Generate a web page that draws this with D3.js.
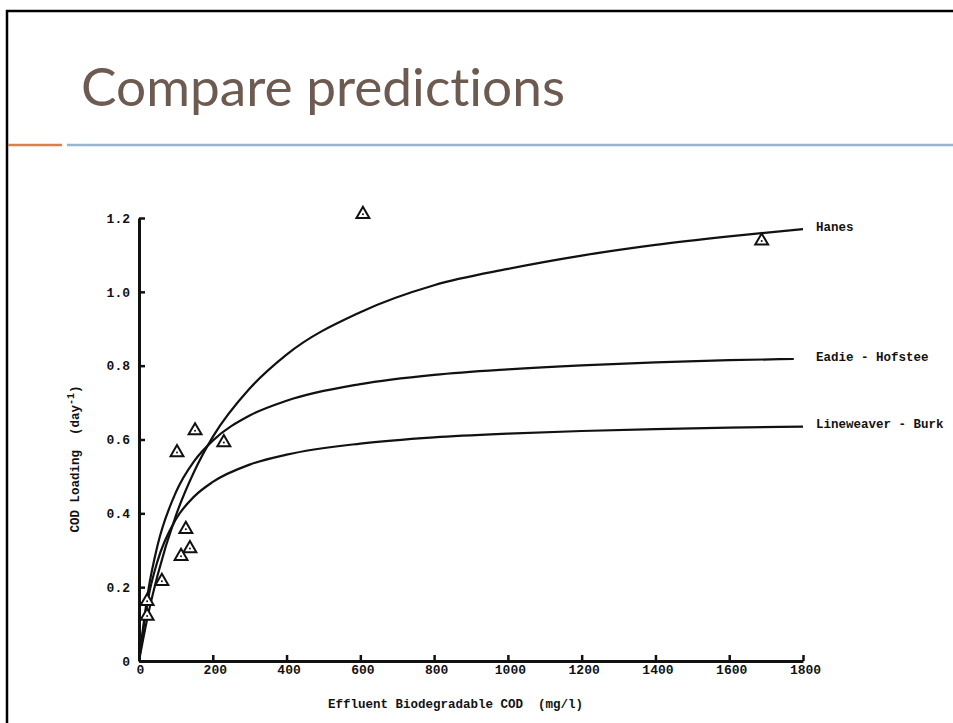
<!DOCTYPE html>
<meta charset="utf-8">
<style>
body { margin: 0; background: #fff; }
svg { display: block; }
.title { font-family: Lato, "Open Sans", sans-serif; fill: #6d5a50; font-variant-ligatures: none; }
.mono { font-family: "Liberation Mono", "DejaVu Sans Mono", monospace; font-weight: bold; fill: #111; }
.axis text { font-family: "Liberation Mono", monospace; font-weight: bold; font-size: 13px; fill: #111; }
</style>
<body>
<svg width="953" height="723"></svg>
<script src="https://d3js.org/d3.v7.min.js"></script>
<script>

// observed points (mg/l, day^-1)
var obsCod  = [607, 1688, 103, 152, 230, 127, 138, 114, 62, 22, 22];
var obsLoad = [1.21, 1.138, 0.565, 0.624, 0.592, 0.357, 0.305, 0.284, 0.216, 0.162, 0.122];

// fitted curves
var curveCod = [0, 25, 50, 100, 150, 200, 300, 400, 600, 800, 1000, 1200, 1400, 1600, 1800];
var hanes      = [0, 0.127, 0.231, 0.394, 0.514, 0.607, 0.738, 0.830, 0.945, 1.018, 1.062, 1.098, 1.127, 1.150, 1.170];
var eadieCod   = [0, 25, 50, 100, 150, 200, 300, 400, 600, 800, 1000, 1200, 1400, 1600, 1775];
var eadie      = [0, 0.19, 0.312, 0.457, 0.542, 0.597, 0.665, 0.705, 0.750, 0.775, 0.790, 0.801, 0.809, 0.815, 0.818];
var lineweaver = [0, 0.17, 0.27, 0.384, 0.446, 0.485, 0.532, 0.559, 0.589, 0.606, 0.616, 0.623, 0.628, 0.632, 0.635];

var xTicks = [0, 200, 400, 600, 800, 1000, 1200, 1400, 1600, 1800];
var yTicks = [0, 0.2, 0.4, 0.6, 0.8, 1.0, 1.2];
var curveNames = ["Hanes", "Eadie - Hofstee", "Lineweaver - Burk"];

var svg = d3.select("svg");

// slide frame and title
svg.append("line").attr("x1", 7).attr("x2", 7).attr("y1", 10).attr("y2", 723)
    .attr("stroke", "#000").attr("stroke-width", 2.5);
svg.append("line").attr("x1", 6).attr("x2", 953).attr("y1", 11).attr("y2", 11)
    .attr("stroke", "#000").attr("stroke-width", 2.5);
svg.append("line").attr("x1", 8).attr("x2", 62).attr("y1", 145).attr("y2", 145)
    .attr("stroke", "#dd8047").attr("stroke-width", 2.5);
svg.append("line").attr("x1", 67).attr("x2", 953).attr("y1", 145).attr("y2", 145)
    .attr("stroke", "#94b6d2").attr("stroke-width", 2.5);
svg.append("text").attr("class", "title")
    .attr("x", 81).attr("y", 106)
    .attr("font-size", 52)
    .attr("textLength", 484)
    .attr("lengthAdjust", "spacingAndGlyphs")
    .text("Compare predictions");

var x = d3.scaleLinear().domain([0, 1800]).range([139, 803]),
    y = d3.scaleLinear().domain([0, 1.2]).range([661, 218]);

var fmtY = function(d) { return d === 0 ? "0" : d3.format(".1f")(d); };

var gy = svg.append("g").attr("class", "axis")
    .attr("transform", "translate(" + x(0) + ",0)")
    .call(d3.axisLeft(y).tickValues(yTicks).tickFormat(fmtY).tickSizeInner(-6).tickSizeOuter(0).tickPadding(9));

var gx = svg.append("g").attr("class", "axis")
    .attr("transform", "translate(0," + y(0) + ")")
    .call(d3.axisBottom(x).tickValues(xTicks).tickFormat(d3.format("d")).tickSizeInner(-6).tickSizeOuter(0).tickPadding(4));
gx.selectAll(".tick text").attr("dx", function(d) { return d === 0 ? 1 : 2; });

svg.selectAll(".axis .domain").style("stroke", "#111").style("stroke-width", "3px");
svg.selectAll(".axis .tick line").style("stroke", "#111").style("stroke-width", "2.5px");

// axis titles
svg.append("text").attr("class", "mono")
    .attr("x", 328).attr("y", 708).attr("font-size", 12.5)
    .attr("xml:space", "preserve")
    .text("Effluent Biodegradable COD  (mg/l)");

var yt = svg.append("text").attr("class", "mono")
    .attr("font-size", 12.5)
    .attr("text-anchor", "middle")
    .attr("xml:space", "preserve")
    .attr("transform", "translate(79,459) rotate(-90)");
yt.append("tspan").text("COD Loading  (day");
yt.append("tspan").attr("dy", -5).attr("font-size", 10).text("-1");
yt.append("tspan").attr("dy", 5).text(")");

// curves
var line = d3.line().curve(d3.curveMonotoneX)
    .x(function(d) { return x(d[0]); })
    .y(function(d) { return y(d[1]); });

var series = [
  { name: curveNames[0], pts: d3.zip(curveCod, hanes) },
  { name: curveNames[1], pts: d3.zip(eadieCod, eadie) },
  { name: curveNames[2], pts: d3.zip(curveCod, lineweaver) }
];

svg.selectAll(".fit")
  .data(series)
  .enter().append("path")
    .attr("class", "fit")
    .attr("d", function(d) { return line(d.pts); })
    .attr("fill", "none")
    .attr("stroke", "#111")
    .attr("stroke-width", 2.2);

svg.selectAll(".fitlabel")
  .data(series)
  .enter().append("text")
    .attr("class", "mono")
    .attr("font-size", 12.5)
    .attr("x", 816)
    .attr("y", function(d) { var p = d.pts[d.pts.length - 1]; return y(p[1]); })
    .attr("dy", "0.15em")
    .attr("xml:space", "preserve")
    .text(function(d) { return d.name; });

// observed triangles
var tri = d3.symbol().type(d3.symbolTriangle).size(72);
var pts = svg.selectAll(".obs")
  .data(d3.zip(obsCod, obsLoad))
  .enter().append("g")
    .attr("class", "obs")
    .attr("transform", function(d) { return "translate(" + x(d[0]) + "," + y(d[1]) + ")"; });
pts.append("path").attr("d", tri)
    .attr("fill", "#fff").attr("stroke", "#111").attr("stroke-width", 2);
pts.append("circle").attr("r", 1).attr("fill", "#111");

</script>
</body>
